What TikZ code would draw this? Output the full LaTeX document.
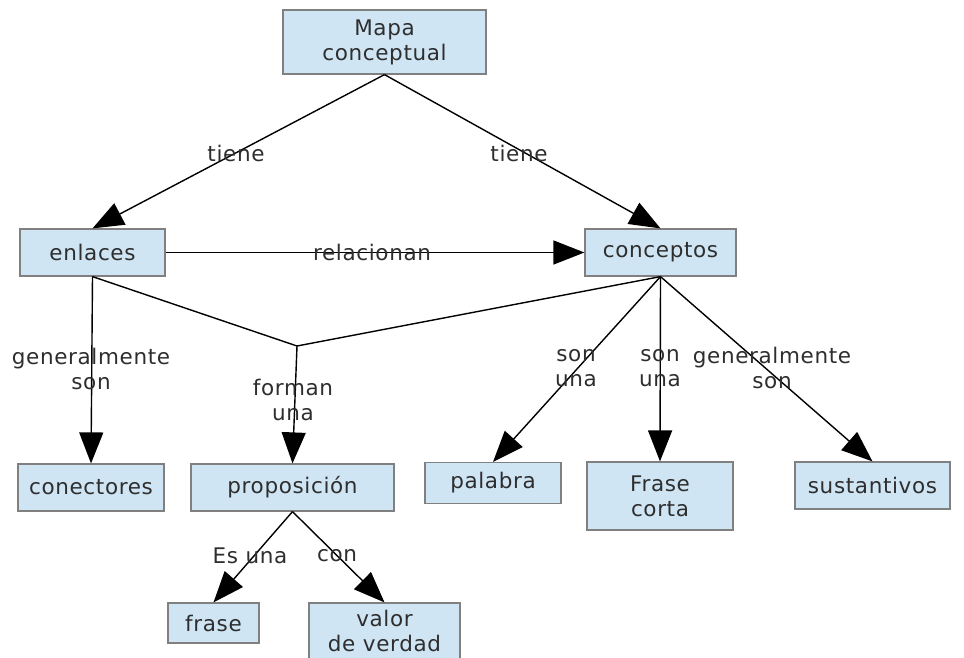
\documentclass[tikz,border=0pt]{standalone}
\usepackage{fontspec}
\setmainfont[LetterSpace=3]{DejaVu Sans}
\usetikzlibrary{arrows.meta}
\definecolor{boxfill}{HTML}{CFE5F4}
\definecolor{boxline}{HTML}{808080}
\definecolor{ink}{HTML}{2E2E2E}
\tikzset{
  concept/.style={draw=boxline, line width=1.2pt, fill=boxfill, text=ink,
    align=center, inner sep=0pt, font=\fontsize{21.5}{25}\selectfont},
  link/.style={draw=black, line width=1.4pt},
  arr/.style={link, -{Triangle[length=31pt,width=24pt]}},
  lbl/.style={text=ink, align=center, inner sep=0pt, font=\fontsize{21.5}{25}\selectfont}
}
\begin{document}
\begin{tikzpicture}[x=1pt,y=-1pt]
\useasboundingbox[fill=white] (0,0) rectangle (964,657);

% concept boxes
\node[concept, minimum width=203pt, minimum height=64pt] (mapa) at (384.5,42) {Mapa\\conceptual};
\node[concept, minimum width=145pt, minimum height=47pt] (enlaces) at (92.5,252.5) {enlaces};
\node[concept, minimum width=151pt, minimum height=47pt] (conceptos) at (660.5,252.5) {conceptos};
\node[concept, minimum width=146pt, minimum height=47pt] (conectores) at (91,487.5) {conectores};
\node[concept, minimum width=203pt, minimum height=47pt] (proposicion) at (292.5,487.5) {proposición};
\node[concept, minimum width=136pt, minimum height=41pt] (palabra) at (493,483) {palabra};
\node[concept, minimum width=146pt, minimum height=68pt] (frasecorta) at (660,496) {Frase\\corta};
\node[concept, minimum width=155pt, minimum height=47pt] (sustantivos) at (872.5,485.5) {sustantivos};
\node[concept, minimum width=91pt, minimum height=40pt] (frase) at (213.5,623) {frase};
\node[concept, minimum width=151pt, minimum height=56pt] (valor) at (384.5,631) {valor\\de verdad};

% branching point shared by enlaces and conceptos
\coordinate (forma) at (297,346);

% connectors
\draw[arr] (mapa.south) -- (enlaces.north);
\draw[arr] (mapa.south) -- (conceptos.north);
\draw[arr] (enlaces.east) -- (conceptos.west);
\draw[arr] (enlaces.south) -- (conectores.north);
\draw[link] (enlaces.south) -- (forma);
\draw[link] (conceptos.south) -- (forma);
\draw[arr] (forma) -- (proposicion.north);
\draw[arr] (conceptos.south) -- (palabra.north);
\draw[arr] (conceptos.south) -- (frasecorta.north);
\draw[arr] (conceptos.south) -- (sustantivos.north);
\draw[arr] (proposicion.south) -- (frase.north);
\draw[arr] (proposicion.south) -- (valor.north);

% connector labels
\node[lbl] (l1) at (236,153) {tiene};
\node[lbl] (l2) at (519,153) {tiene};
\node[lbl] (l3) at (372,252) {relacionan};
\node[lbl] (l4) at (91,369) {generalmente\\son};
\node[lbl] (l5) at (293,400) {forman\\una};
\node[lbl] (l6) at (576,368) {son\\una};
\node[lbl] (l7) at (660,368) {son\\una};
\node[lbl] (l8) at (772,368) {generalmente\\son};
\node[lbl] (l9) at (250,556) {Es una};
\node[lbl] (l10) at (337,556) {con};
\end{tikzpicture}
\end{document}
